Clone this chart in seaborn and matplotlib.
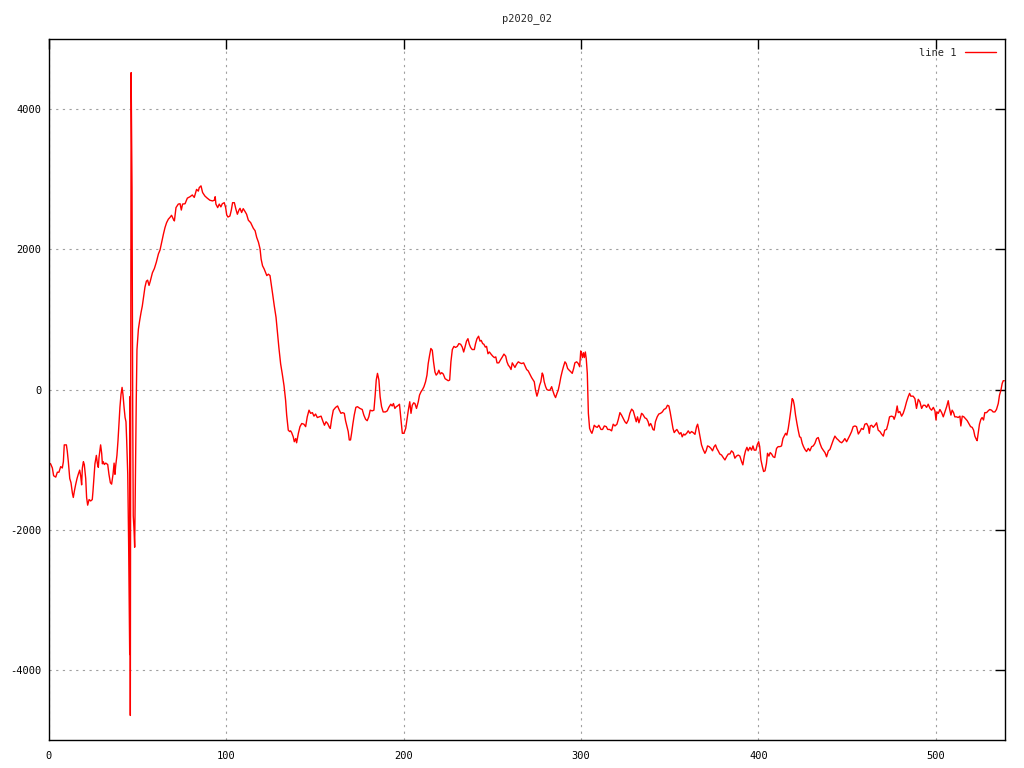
import matplotlib
matplotlib.use("Agg")
import matplotlib.pyplot as plt
import seaborn as sns
import numpy as np

# ---- data (x position, value) ----
x_start = [0, 0.9, 1.9, 2.6, 3.8, 4.7, 5.6, 6.6, 7.5, 8.1, 8.6, 9.8, 10.3, 10.9, 11.7, 12.4, 13.2, 13.7, 14.3, 15.0,
           15.8, 16.5, 17.3, 17.9, 18.4, 18.8, 19.4, 19.9, 20.7, 21.2, 21.8, 22.6, 23.5, 24.4, 24.8, 25.4, 25.9, 26.7, 27.3, 27.8,
           28.2, 29.1, 29.7, 30.1, 30.6, 31.2, 32.0, 33.1, 33.8, 34.6, 35.3, 36.1, 36.7, 37.2, 37.6, 38.3, 38.9, 39.5, 40.0, 40.6,
           41.2, 41.7, 42.3, 42.9, 43.4, 43.8, 44.4]
y_start = [-1050, -1060, -1120, -1230, -1250, -1180, -1180, -1100, -1120, -1030, -790, -790, -880, -1030, -1270, -1330, -1480, -1540, -1450, -1360,
           -1270, -1210, -1150, -1240, -1360, -1120, -1030, -1070, -1270, -1540, -1650, -1570, -1590, -1570, -1450, -1240, -1060, -940, -1060, -1110,
           -970, -790, -910, -1060, -1030, -1070, -1050, -1070, -1210, -1330, -1350, -1210, -1050, -1210, -1090, -940, -730, -460, -250, -70,
           30, -70, -250, -400, -460, -730, -1210]

x_spike = [44.9, 45.5, 45.7, 45.85, 46.3, 46.8, 47.2, 47.5, 47.9, 48.3, 48.6, 49.2, 49.6]
y_spike = [-2200, -3780, -100, -4650, 4520, 2880, -300, -1800, -1980, -2250, -1500, -150, 570]

x_rise = [50.4, 51.1, 51.9, 52.6, 53.4, 54.1, 54.9, 55.6, 56.4, 57.1, 58.3, 59.4, 60.5, 61.7, 62.6, 63.5, 64.5, 65.4, 66.3, 67.3,
          68.2, 69.1, 70.1, 70.7, 71.6, 72.9, 73.9, 74.6, 75.3, 76.7, 78.0, 79.5, 80.8, 81.9, 83.2, 84.2, 84.7, 85.7, 86.6, 87.9,
          89.2, 90.7, 92.2, 93.2, 93.7, 94.1, 95.1, 96.0, 96.9, 97.7, 98.8, 99.6]
y_rise = [860, 980, 1100, 1190, 1340, 1460, 1545, 1560, 1485, 1545, 1665, 1725, 1815, 1935, 1990, 2100, 2215, 2310, 2380, 2430,
          2455, 2485, 2430, 2405, 2595, 2645, 2650, 2560, 2645, 2650, 2730, 2750, 2775, 2740, 2855, 2830, 2880, 2905, 2810, 2760,
          2730, 2700, 2690, 2700, 2750, 2645, 2595, 2645, 2605, 2650, 2665, 2595]

x_fall = [100.2, 100.9, 102.0, 102.8, 103.5, 104.5, 105.4, 106.2, 107.1, 107.7, 108.6, 109.5, 110.5, 111.4, 112.4, 113.7, 115.2, 116.2, 117.1, 118.1,
          119.0, 119.6, 120.4, 121.3, 122.1, 122.8, 123.7, 124.6, 125.3, 126.1, 127.0, 128.0, 128.9, 129.6, 130.6, 131.5, 132.5, 133.4]
y_fall = [2490, 2460, 2475, 2560, 2665, 2665, 2570, 2500, 2560, 2585, 2525, 2580, 2540, 2500, 2415, 2380, 2300, 2265, 2170, 2100,
          2005, 1860, 1765, 1720, 1670, 1625, 1645, 1625, 1505, 1360, 1195, 1030, 790, 600, 365, 225, 55, -155]

x_low1 = [134.0, 134.9, 135.7, 136.2, 136.8, 137.7, 138.3, 139.1, 139.6, 140.6, 141.5, 142.5, 143.7, 144.7, 145.6, 146.6, 147.5, 148.5, 149.4, 150.3,
          151.3, 152.4, 153.4, 154.3, 155.3, 156.2, 157.1, 158.1, 158.6, 159.4, 160.3, 161.6, 162.7, 163.7, 164.6, 165.5, 166.5, 167.2, 168.0, 168.7,
          169.3, 170.0, 170.6, 171.3, 172.1, 173.0, 173.9, 175.3, 176.6, 177.5, 178.5, 179.4, 180.3, 181.1, 182.2, 183.2, 183.9, 184.5, 185.2, 186.0,
          186.7, 187.5, 188.4, 189.7, 190.7, 191.6, 192.7, 193.5, 194.2, 195.0, 195.8, 196.5, 197.6, 198.4, 199.2, 200.1, 201.1]
y_low1 = [-365, -580, -600, -590, -615, -675, -745, -700, -760, -625, -530, -485, -495, -530, -390, -295, -340, -330, -380, -350,
          -400, -390, -380, -445, -510, -460, -485, -540, -555, -415, -295, -255, -235, -295, -340, -330, -340, -445, -530, -600,
          -720, -720, -625, -495, -365, -255, -245, -270, -285, -365, -425, -445, -390, -295, -305, -295, -80, 135, 230, 135,
          -105, -245, -320, -320, -305, -255, -210, -235, -200, -270, -245, -235, -210, -415, -625, -625, -555]

x_hump = [202.6, 203.4, 204.1, 204.8, 205.6, 206.3, 207.2, 208.2, 208.9, 209.7, 210.6, 211.4, 212.3, 213.1, 213.8, 214.6, 215.3, 216.1, 216.8, 217.6,
          218.3, 219.1, 219.8, 220.6, 221.4, 222.3, 223.3, 224.2, 225.1, 225.9, 226.6, 227.4, 228.3, 229.2, 230.2, 231.1, 232.1, 233.0, 233.8, 234.5,
          235.4, 236.2, 237.0, 237.7, 238.6, 239.8, 240.5, 241.3, 242.2, 243.0, 243.7, 244.5, 245.2, 246.0, 246.7, 247.5, 248.3, 249.2, 250.2, 251.1,
          251.9, 252.6, 253.6, 254.5, 255.6, 256.5, 257.5, 258.2, 259.0, 259.7, 260.5, 261.2, 262.0, 262.7, 263.6, 264.6, 265.5, 266.4, 267.6]
y_hump = [-295, -175, -340, -225, -190, -200, -270, -175, -80, -35, 0, 40, 110, 205, 370, 490, 585, 560, 395, 250,
          205, 230, 275, 220, 240, 220, 155, 140, 125, 135, 395, 570, 615, 600, 615, 655, 645, 605, 535, 600,
          690, 725, 645, 600, 570, 570, 655, 725, 760, 690, 700, 655, 645, 605, 615, 510, 535, 505, 475, 455,
          465, 380, 380, 420, 465, 505, 475, 395, 345, 325, 285, 380, 345, 315, 360, 395, 380, 370, 380]

x_mid = [269.3, 270.2, 271.1, 272.1, 273.0, 273.6, 274.3, 275.1, 275.8, 276.6, 277.3, 278.1, 278.6, 279.2, 280.0, 280.7, 281.5, 282.4, 283.4, 284.1,
         284.9, 285.6, 286.4, 287.1, 287.9, 288.6, 289.4, 290.1, 290.9, 291.6, 292.4, 293.3, 294.3, 295.0, 295.8, 296.5, 297.5, 298.4, 299.2, 299.8,
         300.3, 300.7, 301.3, 301.8, 302.4, 302.9, 303.5]
y_mid = [285, 265, 220, 170, 135, 110, -10, -95, -35, 60, 110, 235, 205, 110, 40, 0, -10, -10, 40, -20,
         -80, -115, -55, -10, 85, 180, 265, 330, 395, 370, 300, 275, 250, 230, 300, 380, 395, 370, 325, 550,
         510, 455, 525, 455, 535, 440, 230]

x_drop = [304.1, 304.8, 305.5, 306.1, 306.8, 307.4, 308.2, 309.1, 310.0, 311.2, 312.1, 313.1, 314.2, 315.0, 316.1, 317.2, 318.1, 319.1, 320.2, 321.0,
          321.9, 322.8, 323.8, 324.7, 325.6, 326.6, 327.5, 328.5, 329.4, 330.3, 331.1, 331.8, 332.6, 333.3, 334.1, 334.8]
y_drop = [-340, -555, -600, -625, -570, -510, -530, -540, -510, -570, -570, -520, -530, -570, -570, -590, -495, -520, -495, -425,
          -330, -365, -415, -460, -485, -435, -340, -280, -305, -390, -460, -390, -475, -415, -340, -355]

x_trough = [336.0, 336.9, 337.8, 338.4, 339.2, 339.7, 340.5, 341.2, 341.9, 342.9, 343.8, 344.8, 345.8, 346.7, 347.8, 348.7, 349.5, 350.2, 351.0, 351.8,
            352.5, 353.2, 354.0, 354.7, 355.5, 356.3, 357.0, 357.8, 358.5, 359.5, 360.4, 361.3, 362.3, 363.2, 364.2, 365.1, 365.7, 366.2, 367.0, 367.9,
            368.8, 369.8, 370.5, 371.3, 372.2, 373.2, 374.1, 375.0, 375.8, 376.5, 377.3, 378.2, 379.2, 380.1, 381.1, 382.0, 383.0, 383.9, 384.8, 385.8,
            386.7, 387.6, 388.6, 389.5, 390.5, 391.2, 392.0, 392.7, 393.5, 394.2, 395.2, 396.1, 396.9, 397.6, 398.6, 399.3, 400.1, 400.7, 401.4, 402.2,
            402.9, 403.7]
y_trough = [-405, -415, -460, -520, -485, -510, -570, -580, -460, -390, -350, -340, -320, -285, -270, -225, -235, -320, -435, -555,
            -615, -590, -570, -600, -635, -615, -675, -635, -650, -625, -590, -625, -600, -615, -640, -530, -495, -555, -665, -790,
            -855, -910, -875, -805, -815, -840, -875, -815, -790, -840, -875, -920, -935, -970, -1005, -960, -920, -920, -875, -900,
            -980, -950, -935, -950, -1030, -1075, -950, -875, -825, -875, -825, -865, -805, -865, -865, -790, -745, -815, -1005, -1100,
            -1170, -1160]

x_recover = [404.5, 405.1, 405.9, 406.6, 407.4, 408.3, 409.2, 410.2, 411.1, 412.1, 413.0, 413.8, 414.5, 415.3, 416.0, 416.8, 417.5, 418.3, 419.0, 419.6,
             420.2, 420.9, 421.7, 422.4, 423.2, 423.9, 424.7, 425.4, 426.2, 427.1, 428.1, 429.0, 430.0, 430.9, 431.8, 432.8, 433.7, 434.7, 435.6, 436.5,
             437.5, 438.4, 439.4, 440.3, 441.2, 442.2, 443.1, 444.1, 445.0, 445.9, 446.9, 447.8, 448.7, 449.7, 450.6, 451.6, 452.5, 453.4, 454.4, 455.3,
             456.3, 457.2, 458.1, 459.1, 460.0, 461.0, 461.9, 462.5, 463.0, 463.8, 464.7, 465.7, 466.6, 467.5, 468.5, 469.4, 470.4]
y_recover = [-1055, -910, -950, -900, -920, -960, -970, -840, -815, -815, -805, -700, -665, -625, -650, -555, -435, -285, -130, -150,
             -225, -365, -485, -580, -675, -685, -770, -815, -855, -885, -840, -875, -815, -805, -770, -700, -685, -770, -830, -865,
             -900, -960, -875, -855, -790, -720, -665, -700, -720, -745, -760, -735, -700, -745, -700, -650, -600, -530, -520, -530,
             -635, -600, -555, -570, -495, -485, -530, -625, -520, -510, -540, -510, -475, -580, -600, -635, -665]

x_end = [471.2, 472.2, 473.1, 473.9, 475.0, 476.0, 476.5, 477.3, 478.2, 478.8, 479.7, 480.7, 481.6, 482.5, 483.5, 484.4, 485.2, 485.9, 487.2, 488.2,
         489.1, 490.1, 491.0, 492.0, 492.9, 493.9, 494.8, 495.7, 496.7, 497.6, 498.6, 499.5, 500.1, 500.6, 501.4, 502.3, 503.3, 504.2, 505.1, 506.1,
         507.0, 507.7, 508.5, 509.2, 510.0, 510.7, 511.7, 512.6, 513.6, 514.1, 514.9, 515.8, 516.7, 517.7, 518.6, 519.6, 520.5, 521.3, 522.0, 522.8,
         523.3, 523.9, 524.6, 525.4, 526.1, 526.9, 527.6, 528.6, 529.5, 530.4, 531.4, 532.3, 533.3, 534.2, 535.2, 535.9, 536.7, 537.4, 538.0, 538.6]
y_end = [-580, -570, -485, -390, -380, -390, -425, -365, -235, -330, -315, -380, -340, -270, -175, -105, -55, -95, -95, -130,
         -270, -140, -175, -270, -225, -225, -255, -210, -270, -295, -255, -305, -435, -320, -340, -285, -330, -390, -320, -245,
         -160, -270, -365, -295, -330, -390, -390, -400, -380, -520, -380, -390, -415, -445, -485, -530, -540, -580, -665, -710,
         -730, -625, -495, -425, -400, -435, -330, -330, -305, -285, -295, -320, -320, -285, -200, -80, -10, 85, 125, 125]

title_text = "p2020_02"
series_label = "line 1"
x_ticks = [0, 100, 200, 300, 400, 500]
y_ticks = [-4000, -2000, 0, 2000, 4000]

xs = np.concatenate([x_start, x_spike, x_rise, x_fall, x_low1, x_hump, x_mid, x_drop, x_trough, x_recover, x_end])
ys = np.concatenate([y_start, y_spike, y_rise, y_fall, y_low1, y_hump, y_mid, y_drop, y_trough, y_recover, y_end])

# ---- style ----
sns.set_style("white")
plt.rcParams["font.family"] = ["DejaVu Sans Mono", "DejaVu Sans"]
plt.rcParams["axes.unicode_minus"] = False

fig = plt.figure(figsize=(10.24, 7.68), dpi=100)
ax = fig.add_axes([49 / 1024, 28 / 768, 956 / 1024, 701 / 768])

sns.lineplot(x=xs, y=ys, ax=ax, color="red", linewidth=1.0, label=series_label,
             sort=False, estimator=None)

ax.set_xlim(0, 539)
ax.set_ylim(-5000, 5000)
ax.set_xticks(x_ticks)
ax.set_yticks(y_ticks)
ax.set_xlabel("")
ax.set_ylabel("")

ax.grid(True, color="#a0a0a0", linestyle=(0, (2, 4)), linewidth=0.8)
ax.set_axisbelow(True)
ax.tick_params(direction="in", length=7, width=1, top=True, right=True,
               labelsize=7.5, colors="black")
ax.tick_params(axis="x", pad=8)
ax.tick_params(axis="y", pad=5.5)
for s in ax.spines.values():
    s.set_color("black")
    s.set_linewidth(1.0)

fig.text(527 / 1024, 1 - 19 / 768, title_text, ha="center", va="center", fontsize=7.5)

leg = ax.legend(loc="upper right", frameon=False, markerfirst=False,
                handlelength=3.0, handletextpad=0.8, fontsize=7.5,
                borderaxespad=0.45)

fig.savefig("out.png", dpi=100, facecolor="white")
